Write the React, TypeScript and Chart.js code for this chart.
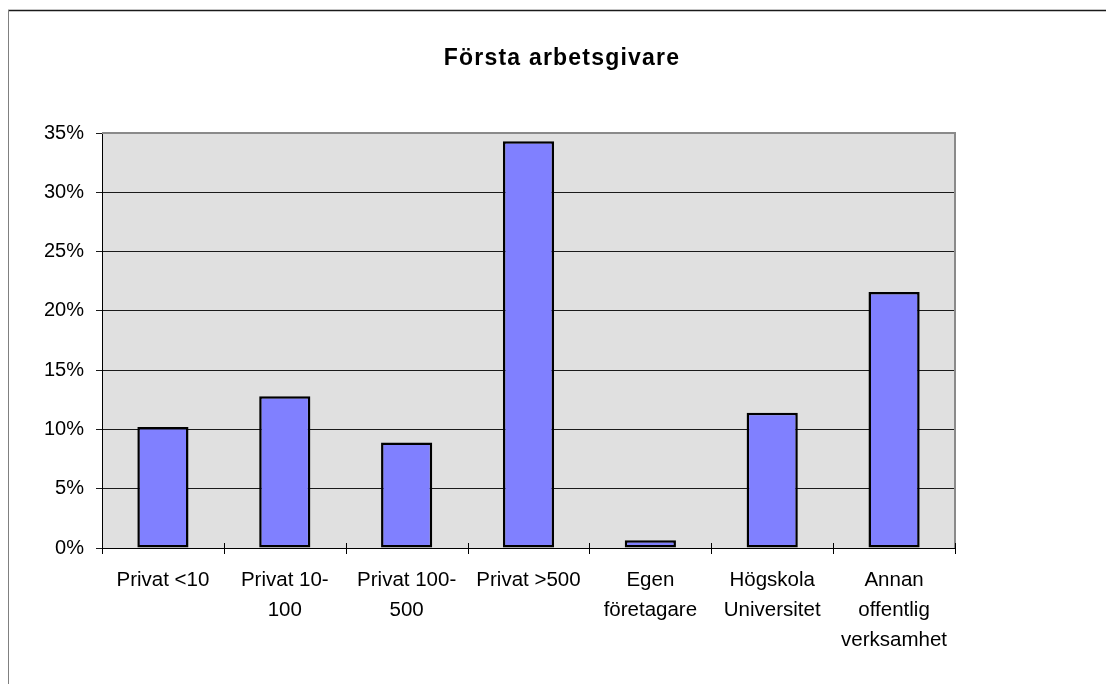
import React, { useEffect, useRef } from "react";
import { Chart, registerables } from "chart.js";

Chart.register(...registerables);

const chartTitle = "Första arbetsgivare";
const categories: string[][] = [
  ["Privat <10"],
  ["Privat 10-", "100"],
  ["Privat 100-", "500"],
  ["Privat >500"],
  ["Egen", "företagare"],
  ["Högskola", "Universitet"],
  ["Annan", "offentlig", "verksamhet"],
];
const values: number[] = [10.2, 12.8, 8.9, 34.3, 0.65, 11.4, 21.6];
const yMin = 0;
const yMax = 35;
const yStep = 5;

const FONT = '"Liberation Sans", Arial, sans-serif';

const framePlugin = {
  id: "frame",
  beforeDraw(chart: any) {
    const ctx = chart.ctx;
    const a = chart.chartArea;
    ctx.save();
    ctx.fillStyle = "#ffffff";
    ctx.fillRect(0, 0, chart.width, chart.height);
    // outer frame
    ctx.strokeStyle = "#1a1a1a";
    ctx.lineWidth = 1.5;
    ctx.beginPath();
    ctx.moveTo(8, 10.5);
    ctx.lineTo(chart.width, 10.5);
    ctx.stroke();
    ctx.strokeStyle = "#808080";
    ctx.lineWidth = 1;
    ctx.beginPath();
    ctx.moveTo(8.5, 10);
    ctx.lineTo(8.5, chart.height);
    ctx.stroke();
    // plot background
    ctx.fillStyle = "#e0e0e0";
    ctx.fillRect(a.left, a.top, a.right - a.left, a.bottom - a.top);
    ctx.restore();
  },
  afterDraw(chart: any) {
    const ctx = chart.ctx;
    const a = chart.chartArea;
    ctx.save();
    // plot border top & right
    ctx.strokeStyle = "#8a8a8a";
    ctx.lineWidth = 2;
    ctx.beginPath();
    ctx.moveTo(a.left, a.top);
    ctx.lineTo(a.right, a.top);
    ctx.lineTo(a.right, a.bottom);
    ctx.stroke();
    // x ticks crossing axis
    ctx.strokeStyle = "#000000";
    ctx.lineWidth = 1;
    const n = categories.length;
    const w = (a.right - a.left) / n;
    for (let i = 0; i <= n; i++) {
      const x = Math.round(a.left + i * w) + 0.5;
      ctx.beginPath();
      ctx.moveTo(x, a.bottom - 5);
      ctx.lineTo(x, a.bottom + 6);
      ctx.stroke();
    }
    // title
    ctx.fillStyle = "#000000";
    ctx.font = `bold 23px ${FONT}`;
    (ctx as any).letterSpacing = "1.2px";
    ctx.textAlign = "center";
    ctx.textBaseline = "alphabetic";
    ctx.fillText(chartTitle, 562, 65);
    (ctx as any).letterSpacing = "0px";
    ctx.restore();
  },
};

export default function App() {
  const ref = useRef<HTMLCanvasElement | null>(null);

  useEffect(() => {
    if (!ref.current) return;
    const chart = new Chart(ref.current, {
      type: "bar",
      data: {
        labels: categories,
        datasets: [
          {
            data: values,
            backgroundColor: "#8080ff",
            borderColor: "#000000",
            borderWidth: 2.5,
            borderSkipped: false,
            categoryPercentage: 1,
            barPercentage: 0.42,
          },
        ],
      },
      options: {
        responsive: false,
        animation: false,
        devicePixelRatio: 1,
        layout: { padding: { left: 0, right: 151, top: 133, bottom: 0 } },
        plugins: {
          legend: { display: false },
          title: { display: false },
          tooltip: { enabled: false },
        },
        scales: {
          x: {
            afterFit: (s: any) => {
              s.height = 136;
            },
            grid: { display: false, drawTicks: false },
            border: { display: true, color: "#000000", width: 1 },
            ticks: {
              color: "#000000",
              padding: 17,
              maxRotation: 0,
              minRotation: 0,
              autoSkip: false,
              font: { family: FONT, size: 20.5, lineHeight: 30 / 20.5 },
            },
          },
          y: {
            min: yMin,
            max: yMax,
            afterFit: (s: any) => {
              s.width = 102;
            },
            grid: {
              color: "#1a1a1a",
              lineWidth: 1,
              drawTicks: true,
              tickLength: 6,
            },
            border: { display: true, color: "#000000", width: 1 },
            ticks: {
              stepSize: yStep,
              color: "#000000",
              padding: 12,
              font: { family: FONT, size: 20 },
              callback: (v: any) => `${v}%`,
            },
          },
        },
      },
      plugins: [framePlugin],
    });
    return () => chart.destroy();
  }, []);

  return (
    <div style={{ position: "fixed", left: 0, top: 0, width: 1106, height: 684, background: "#fff" }}>
      <canvas ref={ref} width={1106} height={684} style={{ display: "block" }} />
    </div>
  );
}
